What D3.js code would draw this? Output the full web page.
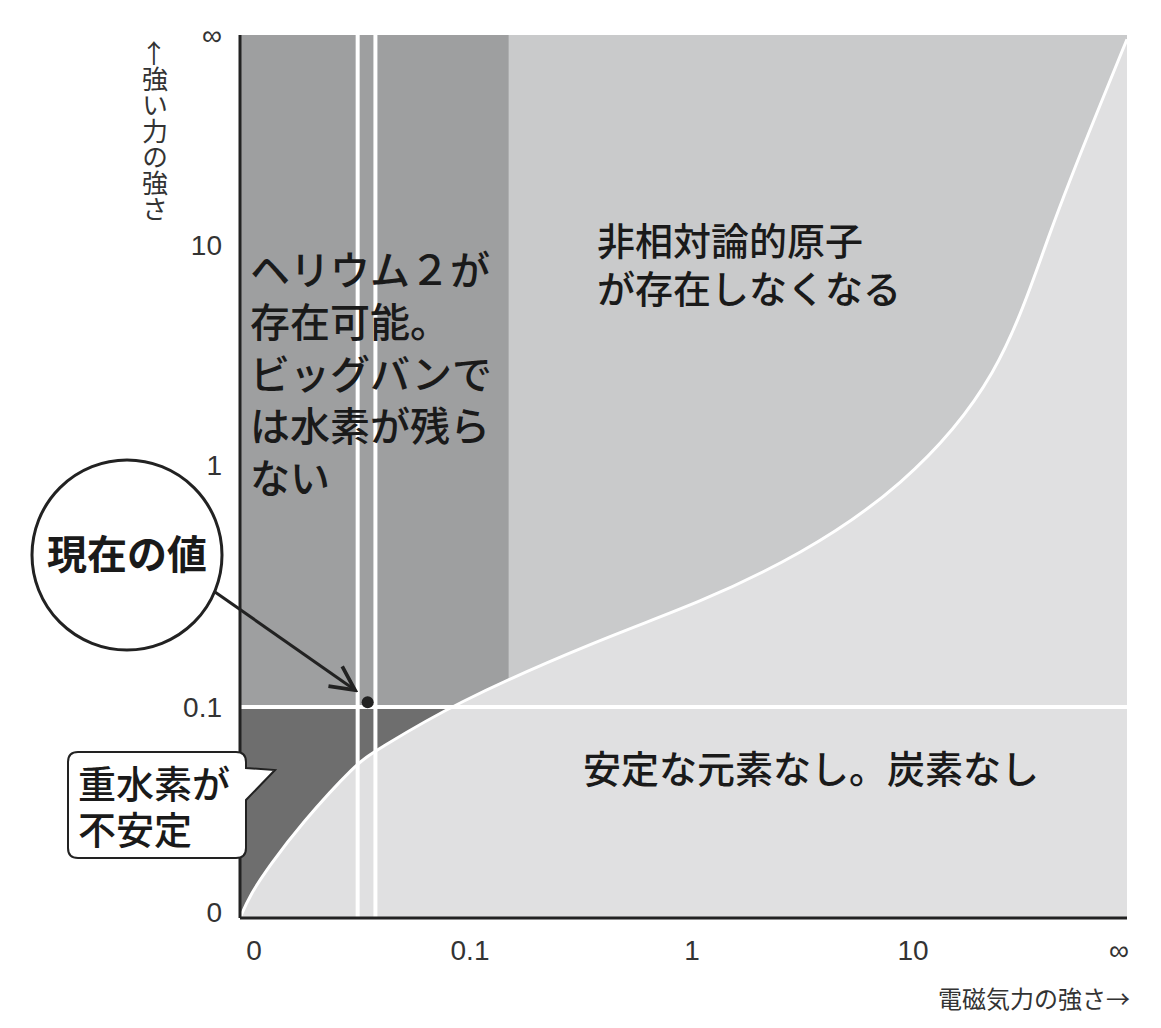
<!DOCTYPE html>
<html><head><meta charset="utf-8">
<script src="https://cdn.jsdelivr.net/npm/d3@7"></script>
<style>body{margin:0;background:#fff;font-family:"Noto Sans CJK JP","Noto Sans",sans-serif;}</style>
</head><body>
<svg id="chart" width="1161" height="1028"></svg>
<script>
// tick labels (positions are index steps on the axis)
var xTicks = ["0", "0.1", "1", "10", "∞"];
var yTicks = ["0", "0.1", "1", "10", "∞"];
// boundary curve in tick-index units
var curveX = [0, 0.045, 0.135, 0.27, 0.53, 0.61, 0.95, 1.62, 2.07, 2.53, 2.98, 3.43, 3.65, 3.88, 4];
var curveY = [0, 0.11, 0.25, 0.44, 0.74, 0.79, 1.01, 1.28, 1.43, 1.63, 1.90, 2.39, 3.07, 3.67, 3.98];
var heliumX = 1.21;     // right edge of helium-2 region
var deutX = 0.95;       // deuterium region right edge (meets curve)
var nowLines = [0.53, 0.61];
var nowPoint = [0.575, 1.02];

var svg = d3.select("#chart");
var x = d3.scaleLinear().domain([0, 1, 2, 3, 4]).range([240, 462, 684, 905, 1127]);
var y = d3.scaleLinear().domain([0, 1, 2, 3, 4]).range([918, 707, 465, 245, 35]);
var pts = curveX.map((d, i) => [d, curveY[i]]);

svg.append("clipPath").attr("id", "plot").append("rect")
  .attr("x", x(0)).attr("y", y(4)).attr("width", x(4) - x(0)).attr("height", y(0) - y(4));
var g = svg.append("g").attr("clip-path", "url(#plot)");

g.append("rect").attr("x", x(0)).attr("y", y(4)).attr("width", x(4) - x(0)).attr("height", y(0) - y(4)).attr("fill", "#c9cacb");
g.append("rect").attr("x", x(0)).attr("y", y(4)).attr("width", x(heliumX) - x(0)).attr("height", y(1) - y(4)).attr("fill", "#9e9fa0");
g.append("rect").attr("x", x(0)).attr("y", y(1)).attr("width", x(deutX) - x(0)).attr("height", y(0) - y(1)).attr("fill", "#6e6e6e");

var below = d3.area().x(d => x(d[0])).y0(y(0)).y1(d => y(d[1])).curve(d3.curveBasis);
g.append("path").datum(pts).attr("d", below).attr("fill", "#e0e0e1");
var line = d3.line().x(d => x(d[0])).y(d => y(d[1])).curve(d3.curveBasis);
g.append("path").datum(pts).attr("d", line).attr("fill", "none").attr("stroke", "#fff").attr("stroke-width", 3);

g.append("line").attr("x1", x(0)).attr("x2", x(4)).attr("y1", y(1)).attr("y2", y(1)).attr("stroke", "#fff").attr("stroke-width", 4);
nowLines.forEach(v => g.append("line").attr("x1", x(v)).attr("x2", x(v)).attr("y1", y(0)).attr("y2", y(4)).attr("stroke", "#fff").attr("stroke-width", 4));
g.append("circle").attr("cx", x(nowPoint[0])).attr("cy", y(nowPoint[1])).attr("r", 6).attr("fill", "#222");

// frame
svg.append("line").attr("x1", x(0)).attr("x2", x(0)).attr("y1", y(4)).attr("y2", y(0)).attr("stroke", "#222").attr("stroke-width", 3);
svg.append("line").attr("x1", x(0)).attr("x2", x(4)).attr("y1", y(0)).attr("y2", y(0)).attr("stroke", "#222").attr("stroke-width", 3);

// tick labels
svg.selectAll(".xt").data(xTicks).enter().append("text")
  .attr("x", (d, i) => i == 0 ? x(i) + 14 : i == 4 ? x(i) - 8 : x(i) + 8)
  .attr("y", 960).attr("text-anchor", "middle").attr("font-size", 28).attr("fill", "#333")
  .attr("font-family", "Liberation Sans, sans-serif").text(d => d);
svg.selectAll(".yt").data(yTicks).enter().append("text")
  .attr("x", 222).attr("y", (d, i) => i == 0 ? y(i) + 4 : y(i) + 10)
  .attr("text-anchor", "end").attr("font-size", 28).attr("fill", "#333")
  .attr("font-family", "Liberation Sans, sans-serif").text(d => d);

// axis titles
svg.append("text").attr("x", 1130).attr("y", 1008).attr("text-anchor", "end").attr("font-size", 24).attr("fill", "#333").text("電磁気力の強さ→");
svg.append("text").attr("transform", "translate(155,40)").style("writing-mode", "vertical-rl")
  .attr("font-size", 26).attr("fill", "#333").text("←強い力の強さ");

function lines(xp, yp, lh, size, arr) {
  var t = svg.append("text").attr("font-size", size).attr("fill", "#1a1a1a").attr("font-weight", 500);
  arr.forEach((s, i) => t.append("tspan").attr("x", xp).attr("y", yp + i * lh).text(s));
}
lines(250, 285, 52, 40, ["ヘリウム２が", "存在可能。", "ビッグバンで", "は水素が残ら", "ない"]);
lines(597, 255, 48, 38, ["非相対論的原子", "が存在しなくなる"]);
lines(583, 783, 48, 38, ["安定な元素なし。炭素なし"]);

// current value callout
svg.append("defs").append("marker").attr("id", "ah").attr("viewBox", "0 0 20 20").attr("refX", 18).attr("refY", 10)
  .attr("markerUnits", "userSpaceOnUse").attr("orient", "auto")
  .attr("markerWidth", 30).attr("markerHeight", 30)
  .append("path").attr("d", "M2,2 L18,10 L2,18").attr("fill", "none").attr("stroke", "#222").attr("stroke-width", 2.5);
svg.append("line").attr("x1", 215).attr("y1", 592).attr("x2", 355).attr("y2", 690).attr("stroke", "#222").attr("stroke-width", 3).attr("marker-end", "url(#ah)");
svg.append("circle").attr("cx", 127).attr("cy", 555).attr("r", 95).attr("fill", "#fff").attr("stroke", "#222").attr("stroke-width", 3);
svg.append("text").attr("x", 127).attr("y", 569).attr("text-anchor", "middle").attr("font-size", 40).attr("font-weight", "bold").attr("fill", "#1a1a1a").text("現在の値");

svg.append("path").attr("d", "M78,752 L236,752 Q246,752 246,762 L246,768 L275,770 L246,800 L246,848 Q246,858 236,858 L78,858 Q68,858 68,848 L68,762 Q68,752 78,752 Z")
  .attr("fill", "#fff").attr("stroke", "#222").attr("stroke-width", 2);
lines(78, 798, 46, 38, ["重水素が", "不安定"]);
</script>
</body></html>
